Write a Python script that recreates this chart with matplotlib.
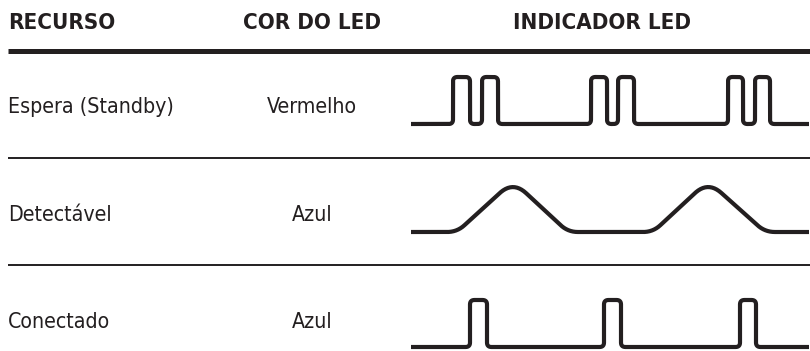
import numpy as np
import matplotlib
matplotlib.use("Agg")
import matplotlib.pyplot as plt

# dados da tabela
headers = ["RECURSO", "COR DO LED", "INDICADOR LED"]
recursos = ["Espera (Standby)", "Detectável", "Conectado"]
cores = ["Vermelho", "Azul", "Azul"]

# bordas dos pulsos (x em px) - espera: grupos de dois pulsos
standby_edges = [453, 470, 482, 498, 591, 607, 618, 634, 728, 743, 755, 770]
# conectado: pulsos simples
conectado_edges = [470, 487, 604, 621, 740, 756]
# detectavel: (inicio, pico, fim) de cada rampa
detect_humps = [(457, 513, 568), (653, 708, 765)]

wave_start = 411
wave_end = 809

ink = "#231f20"
fam = "DejaVu Sans"

fig = plt.figure(figsize=(8.10, 3.51), dpi=100)
ax = fig.add_axes([0, 0, 1, 1])
ax.set_xlim(0, 810)
ax.set_ylim(351, 0)
ax.axis("off")

# cabecalho
hd = dict(fontsize=16, fontweight="bold", family=fam, fontstretch="condensed", color=ink, va="center")
ax.text(8, 23, headers[0], ha="left", **hd)
ax.text(312, 23, headers[1], ha="center", **hd)
ax.text(602, 23, headers[2], ha="center", **hd)
ax.plot([8, 810], [50.5, 50.5], color=ink, lw=3.6, solid_capstyle="butt")

row_y = [107, 215, 322]
rules = [158, 265]
for y in rules:
    ax.plot([8, 810], [y, y], color=ink, lw=1.4, solid_capstyle="butt")

bd = dict(fontsize=15.3, family=fam, fontstretch="condensed", color=ink, va="center")
for i in range(3):
    ax.text(8, row_y[i], recursos[i], ha="left", **bd)
    ax.text(312, row_y[i], cores[i], ha="center", **bd)


def pulse_line(edges, base, top):
    xs = [wave_start]
    ys = [base]
    level = base
    for e in edges:
        xs.append(e)
        ys.append(level)
        level = top if level == base else base
        xs.append(e)
        ys.append(level)
    xs.append(wave_end)
    ys.append(level)
    return xs, ys


def round_corners(xs, ys, r=4.5, n=8):
    # arredonda os cantos da linha (r pode ser um valor por vertice)
    radii = r if isinstance(r, (list, tuple)) else [r] * len(xs)
    px = [xs[0]]
    py = [ys[0]]
    for k in range(1, len(xs) - 1):
        x0, y0 = xs[k - 1], ys[k - 1]
        x1, y1 = xs[k], ys[k]
        x2, y2 = xs[k + 1], ys[k + 1]
        l1 = np.hypot(x1 - x0, y1 - y0)
        l2 = np.hypot(x2 - x1, y2 - y1)
        rr = min(radii[k], l1 / 2, l2 / 2)
        ax_, ay_ = x1 - (x1 - x0) / l1 * rr, y1 - (y1 - y0) / l1 * rr
        bx_, by_ = x1 + (x2 - x1) / l2 * rr, y1 + (y2 - y1) / l2 * rr
        t = np.linspace(0, 1, n)
        # bezier quadratica com o canto como ponto de controle
        qx = (1 - t) ** 2 * ax_ + 2 * (1 - t) * t * x1 + t ** 2 * bx_
        qy = (1 - t) ** 2 * ay_ + 2 * (1 - t) * t * y1 + t ** 2 * by_
        px += list(qx)
        py += list(qy)
    px.append(xs[-1])
    py.append(ys[-1])
    return px, py


wl = dict(color=ink, lw=3.0, solid_joinstyle="round", solid_capstyle="butt")

xs, ys = round_corners(*pulse_line(standby_edges, 124, 77))
ax.plot(xs, ys, **wl)

xs, ys = round_corners(*pulse_line(conectado_edges, 347, 300))
ax.plot(xs, ys, **wl)

# detectavel: rampas com cantos suaves
base2, top2 = 232, 181
xs = [wave_start]
ys = [base2]
radii = [0]
for a, p, b in detect_humps:
    xs += [a, p, b]
    ys += [base2, top2, base2]
    radii += [10, 18, 10]
xs.append(wave_end)
ys.append(base2)
radii.append(0)
xs, ys = round_corners(xs, ys, r=radii, n=24)
ax.plot(xs, ys, **wl)

fig.savefig("out.png", dpi=100, facecolor="white")
